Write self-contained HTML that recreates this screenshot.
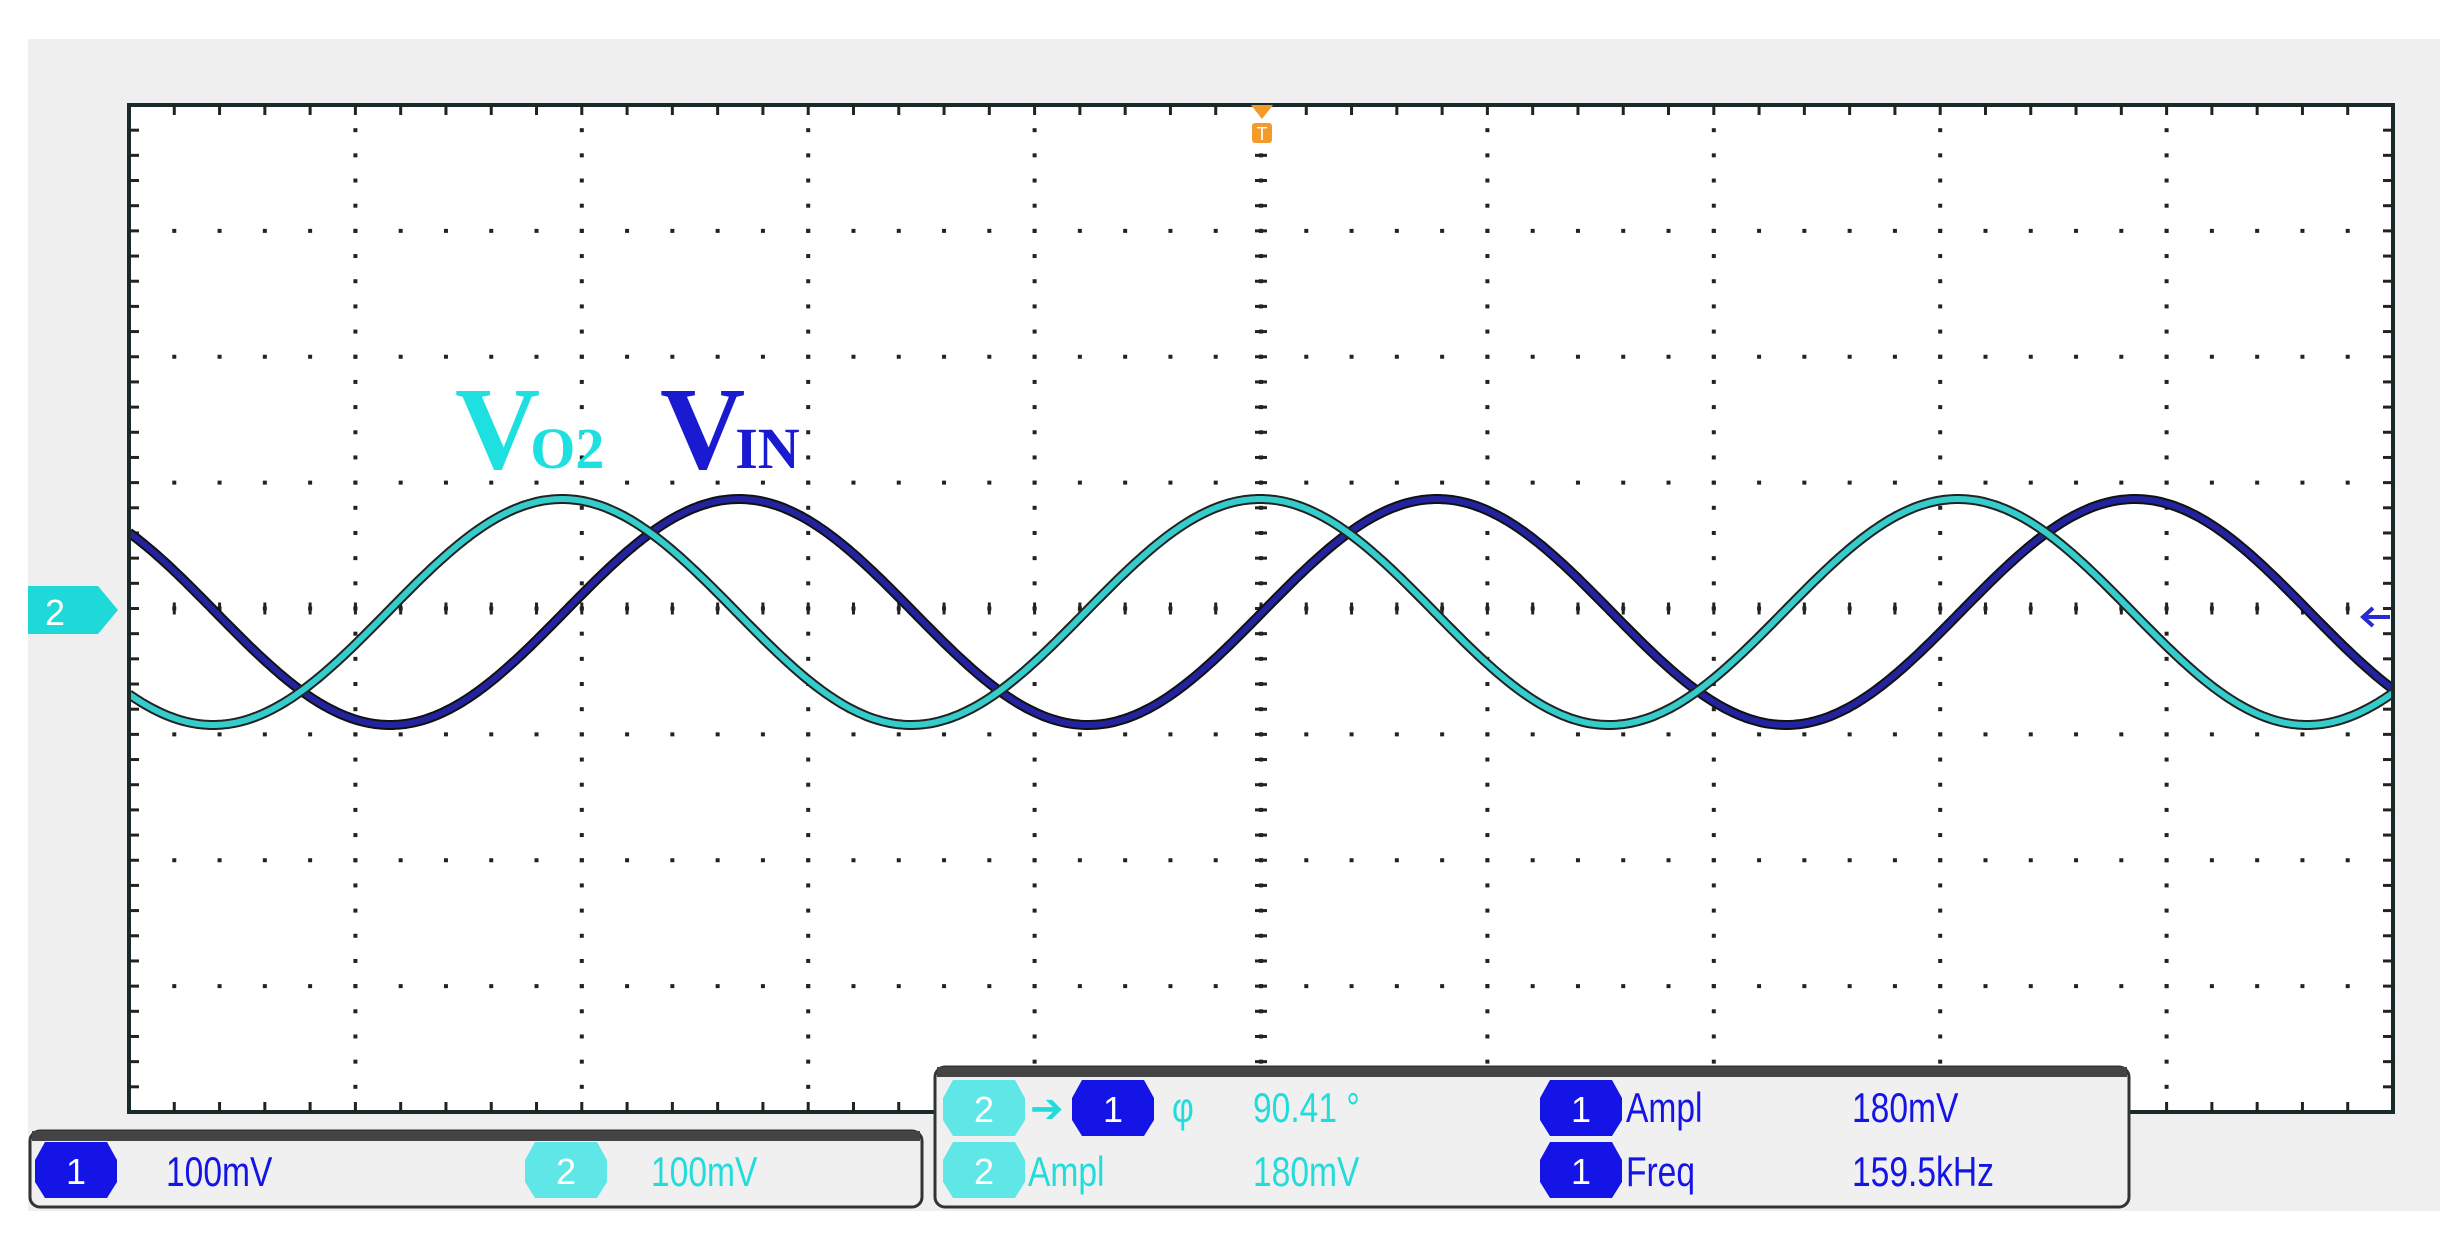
<!DOCTYPE html>
<html><head><meta charset="utf-8"><style>
html,body{margin:0;padding:0;background:#fff;}
svg{display:block}
</style></head><body>
<svg id="s" width="2459" height="1240" viewBox="0 0 2459 1240" xmlns="http://www.w3.org/2000/svg" font-family="Liberation Sans,sans-serif">
<rect x="28" y="39" width="2412" height="1172" fill="#efefef"/>
<rect x="129" y="105" width="2264" height="1007" fill="#fff" stroke="#1a2a2a" stroke-width="4"/>
<g id="grid"></g>
<clipPath id="cp"><rect x="131" y="107" width="2260" height="1003"/></clipPath>
<g clip-path="url(#cp)">
<path id="wb" fill="none" stroke="#111" stroke-width="10"/>
<path id="wb2" fill="none" stroke="#2323a0" stroke-width="6"/>
<path id="wc" fill="none" stroke="#222" stroke-width="10"/>
<path id="wc2" fill="none" stroke="#35cccc" stroke-width="6"/>
</g>
<polygon points="1251,105 1273,105 1262,119" fill="#f39a2a"/>
<rect x="1252" y="123" width="20" height="20" rx="3" fill="#f39a2a"/>
<text x="1262" y="140" font-size="18" fill="#fff" text-anchor="middle">T</text>
<polygon points="28,586 98,586 118,610 98,634 28,634" fill="#1fd8d8"/>
<text x="55" y="625" font-size="36" fill="#fff" text-anchor="middle">2</text>
<path d="M2390,617 L2363,617 M2373,608 L2363,617 L2373,626" stroke="#2a2ad0" stroke-width="4" fill="none"/>
<text x="455" y="468" style="font-family:'Liberation Serif',serif" font-weight="bold" font-size="118" fill="#1ee0e0">V<tspan font-size="58" dx="-10">O2</tspan></text>
<text x="660" y="468" style="font-family:'Liberation Serif',serif" font-weight="bold" font-size="118" fill="#1a1ad0">V<tspan font-size="58" dx="-10">IN</tspan></text>
<rect x="30" y="1131" width="892" height="76" rx="10" fill="#f0f0f0" stroke="#333" stroke-width="3"/>
<rect x="32" y="1131" width="888" height="10" fill="#444"/>
<rect x="935" y="1067" width="1194" height="140" rx="10" fill="#f0f0f0" stroke="#333" stroke-width="3"/>
<rect x="937" y="1067" width="1190" height="10" fill="#444"/>
<g id="ui" font-size="42"></g>
</svg>
<script>
var g=document.getElementById('grid'),h='';
var L=129,T=105,R=2393,B=1112,dx=(R-L)/10,dy=(B-T)/8;
for(var i=1;i<10;i++){var x=L+dx*i;for(var y=T+dy/5;y<B-2;y+=dy/5)h+='<rect x="'+(x-2)+'" y="'+(y-2)+'" width="4" height="4" fill="#222"/>';}
for(var j=1;j<8;j++){var y=T+dy*j;for(var x=L+dx/5;x<R-2;x+=dx/5)h+='<rect x="'+(x-2)+'" y="'+(y-2)+'" width="4" height="4" fill="#222"/>';}
for(var x=L+dx/5;x<R-2;x+=dx/5){h+='<line x1="'+x+'" y1="'+T+'" x2="'+x+'" y2="'+(T+10)+'" stroke="#222" stroke-width="3"/>';h+='<line x1="'+x+'" y1="'+B+'" x2="'+x+'" y2="'+(B-10)+'" stroke="#222" stroke-width="3"/>';h+='<line x1="'+x+'" y1="'+(T+4*dy-6)+'" x2="'+x+'" y2="'+(T+4*dy+6)+'" stroke="#222" stroke-width="3"/>';}
for(var y=T+dy/5;y<B-2;y+=dy/5){h+='<line x1="'+L+'" y1="'+y+'" x2="'+(L+10)+'" y2="'+y+'" stroke="#222" stroke-width="3"/>';h+='<line x1="'+R+'" y1="'+y+'" x2="'+(R-10)+'" y2="'+y+'" stroke="#222" stroke-width="3"/>';h+='<line x1="'+(L+5*dx-6)+'" y1="'+y+'" x2="'+(L+5*dx+6)+'" y2="'+y+'" stroke="#222" stroke-width="3"/>';}
g.innerHTML=h;
function wave(p){var d='';for(var x=129;x<=2395;x+=3){var y=612-113*Math.cos(2*Math.PI*(x-p)/698);d+=(d?'L':'M')+x+','+y.toFixed(1);}return d;}
var b=wave(739),c=wave(562);
['wb','wb2'].forEach(function(id){document.getElementById(id).setAttribute('d',b)});
['wc','wc2'].forEach(function(id){document.getElementById(id).setAttribute('d',c)});
var u='';
function badge(x,y,n,col){u+='<polygon points="'+(x+10)+','+(y-36)+' '+(x+72)+','+(y-36)+' '+(x+82)+','+(y-18)+' '+(x+82)+','+(y+4)+' '+(x+72)+','+(y+20)+' '+(x+10)+','+(y+20)+' '+x+','+(y+4)+' '+x+','+(y-18)+'" fill="'+col+'"/><text x="'+(x+41)+'" y="'+(y+6)+'" font-size="36" fill="#fff" text-anchor="middle">'+n+'</text>';}
function t(x,y,s,col){u+='<text x="'+x+'" y="'+y+'" fill="'+col+'" transform="translate('+x+' 0) scale(0.8 1) translate('+(-x)+' 0)">'+s+'</text>';}
var BL='#1414e6',CY='#22dcdc',CYB='#5fe6e6';
badge(35,1178,'1',BL);t(166,1186,'100mV',BL);badge(525,1178,'2',CYB);t(651,1186,'100mV',CY);
badge(943,1116,'2',CYB);u+='<text x="1030" y="1122" font-size="40" fill="'+CY+'">➔</text>';badge(1072,1116,'1',BL);t(1172,1122,'φ',CY);t(1253,1122,'90.41 °',CY);
badge(1540,1116,'1',BL);t(1626,1122,'Ampl',BL);t(1852,1122,'180mV',BL);
badge(943,1178,'2',CYB);t(1028,1186,'Ampl',CY);t(1253,1186,'180mV',CY);
badge(1540,1178,'1',BL);t(1626,1186,'Freq',BL);t(1852,1186,'159.5kHz',BL);
document.getElementById('ui').innerHTML=u;
</script>
</body></html>
